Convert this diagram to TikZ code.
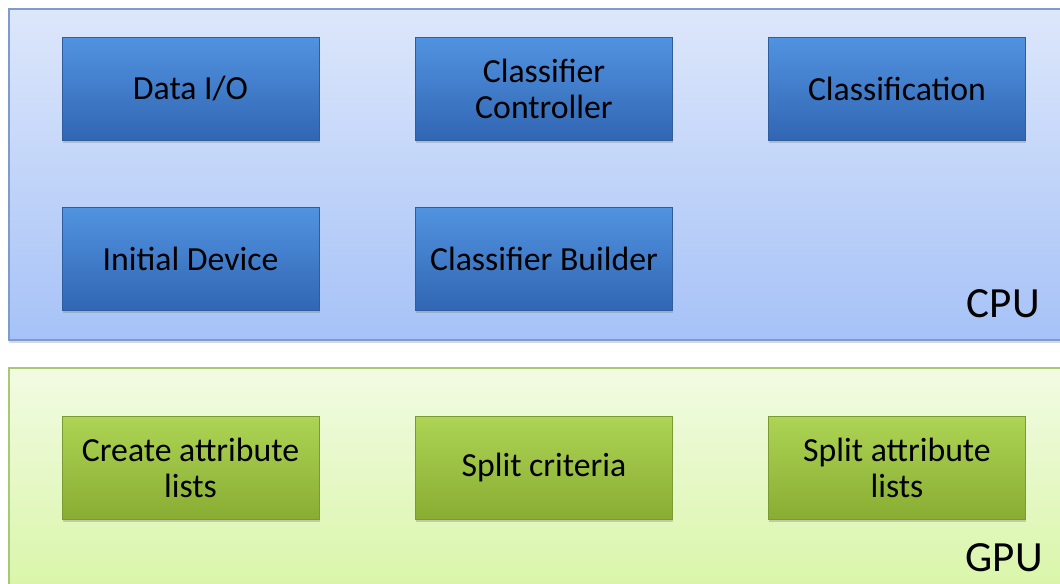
\documentclass[tikz,border=0pt]{standalone}
\usepackage{fontspec}
\setmainfont{Carlito}
\usetikzlibrary{shadows}
\definecolor{cpuTop}{HTML}{DDE7FB}
\definecolor{cpuBot}{HTML}{A6C2F7}
\definecolor{cpuLine}{HTML}{7E9CCB}
\definecolor{gpuTop}{HTML}{F2FBE3}
\definecolor{gpuBot}{HTML}{D8F5A6}
\definecolor{gpuLine}{HTML}{A9C873}
\definecolor{blueTop}{HTML}{5193E0}
\definecolor{blueBot}{HTML}{3166B3}
\definecolor{blueLine}{HTML}{2F5C9C}
\definecolor{greenTop}{HTML}{AED455}
\definecolor{greenBot}{HTML}{88AD32}
\definecolor{greenLine}{HTML}{7A9A33}
\tikzset{
  boxtext/.style={font=\fontsize{19.2}{20.4}\selectfont, align=center, text=black},
  cpubox/.style={boxtext, rectangle, minimum width=257*0.02cm, minimum height=103*0.02cm,
    top color=blueTop, bottom color=blueBot, draw=blueLine, line width=0.4pt,
    drop shadow={shadow xshift=0.5pt, shadow yshift=-1.5pt, opacity=0.35}},
  gpubox/.style={boxtext, rectangle, minimum width=257*0.02cm, minimum height=103*0.02cm,
    top color=greenTop, bottom color=greenBot, draw=greenLine, line width=0.4pt,
    drop shadow={shadow xshift=0.5pt, shadow yshift=-1.5pt, opacity=0.35}},
  panellabel/.style={font=\fontsize{24.5}{28}\selectfont, text=black, inner sep=0pt},
}
\begin{document}
\begin{tikzpicture}[x=0.02cm, y=-0.02cm]
  \useasboundingbox (0,0) rectangle (1060,583);
  \clip (0,0) rectangle (1060,583);

  % processor panels
  \path[top color=cpuTop, bottom color=cpuBot, draw=cpuLine, line width=0.6pt,
        drop shadow={shadow xshift=0pt, shadow yshift=-1.5pt, opacity=0.3}]
        (9,9) rectangle (1075,340);
  \path[top color=gpuTop, bottom color=gpuBot, draw=gpuLine, line width=0.6pt]
        (9,368) rectangle (1075,600);

  % CPU components
  \node[cpubox] (dataio) at (190.5,88.5) {Data I/O};
  \node[cpubox] (ctrl)   at (544,88.5)   {Classifier\\Controller};
  \node[cpubox] (classif) at (897,88.5)  {Classification};
  \node[cpubox] (init)   at (190.5,259)  {Initial Device};
  \node[cpubox] (build)  at (544,259)    {Classifier Builder};

  % GPU kernels
  \node[gpubox] (create) at (190.5,467.5) {Create attribute\\lists};
  \node[gpubox] (crit)   at (544,467.5)   {Split criteria};
  \node[gpubox] (split)  at (897,467.5)   {Split attribute\\lists};

  % panel labels
  \node[panellabel, anchor=base east] (cpu) at (1040,317) {CPU};
  \node[panellabel, anchor=base east] (gpu) at (1043,571) {GPU};
\end{tikzpicture}
\end{document}
